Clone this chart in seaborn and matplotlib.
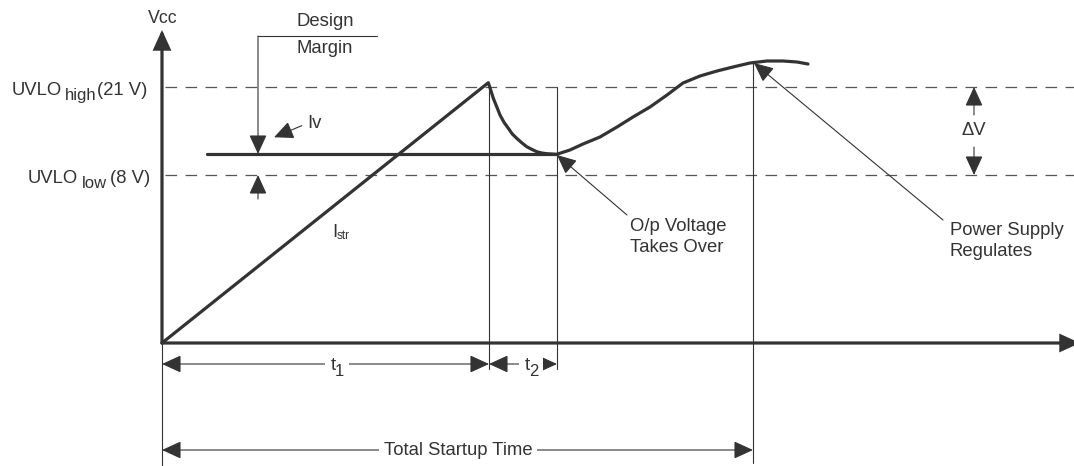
import matplotlib
matplotlib.use("Agg")
import matplotlib.pyplot as plt
from matplotlib.patches import Rectangle
import seaborn as sns

# ---------------------------------------------
# Startup waveform (diagram units: time right, Vcc up)
# ---------------------------------------------
trace_t = [0, 32.63, 32.87, 33.13, 33.47, 33.80, 34.20, 34.63, 35.03, 35.47,
           35.97, 36.47, 36.97, 37.47, 37.97, 38.47, 38.97, 39.47,
           40.8, 42.1, 43.8, 45.5, 47.1, 48.8, 50.5, 52.1, 53.8, 55.5,
           57.1, 58.8, 60.5, 62.1, 63.5, 64.6]
trace_v = [0, 26.03, 25.30, 24.47, 23.63, 22.80, 22.07, 21.47, 20.90, 20.47,
           20.03, 19.63, 19.37, 19.13, 19.00, 18.93, 18.90, 18.87,
           19.3, 19.9, 20.6, 21.6, 22.6, 23.6, 24.8, 26.0, 26.7, 27.2,
           27.6, 28.0, 28.2, 28.2, 28.1, 27.9]

uvlo_high_v = 25.6
uvlo_low_v = 16.8
iv_v = 18.9
iv_start = 4.5
t1_end = 32.7
t2_end = 39.5
t_total = 59.1
margin_x = 9.6
margin_top = 30.7
margin_bar_end = 21.5
dv_x = 81.2

uvlo_labels = [("UVLO", "high", "(21 V)"), ("UVLO", "low", "(8 V)")]
span_labels = [("1", 16.9), ("2", 36.3)]

INK = "#333333"
DASH = "#555555"
FS = 13.3

sns.set_style("white")
plt.rcParams["font.family"] = ["Liberation Sans", "DejaVu Sans"]

fig = plt.figure(figsize=(10.74, 4.66), dpi=100)
ax = fig.add_axes([0, 0, 1, 1])
ax.set_xlim(-16.2, 91.2)
ax.set_ylim(-12.3, 34.3)
ax.axis("off")


def arrow(x0, y0, x1, y1, lw=0.8, style="-|>", hl=1.2, hw=0.55):
    ax.annotate("", xy=(x1, y1), xytext=(x0, y0), annotation_clip=False,
                arrowprops=dict(arrowstyle=f"{style},head_length={hl},head_width={hw}",
                                color=INK, lw=lw, shrinkA=0, shrinkB=0,
                                mutation_scale=10, joinstyle="miter"))


# dashed UVLO thresholds
for lvl in [uvlo_high_v, uvlo_low_v]:
    ax.plot([0.3, 91.2], [lvl, lvl], color=DASH, lw=0.9, ls=(0, (9.3, 6.7)))

# axes
arrow(0, 0, 0, 31.3, lw=2.3, hl=1.1, hw=0.5)
arrow(0, 0, 91.8, 0, lw=2.3, hl=1.1, hw=0.5)
ax.text(0.1, 32.4, "Vcc", fontsize=12.8, color=INK, ha="center", va="center")

# thin vertical markers
ax.plot([0, 0], [0, -12.3], color=INK, lw=0.8)
ax.plot([t1_end, t1_end], [uvlo_high_v, -2.6], color=INK, lw=0.8)
ax.plot([t2_end, t2_end], [uvlo_high_v, -2.6], color=INK, lw=0.8)
ax.plot([t_total, t_total], [28.0, -12.0], color=INK, lw=0.8)

# Iv level and waveform
sns.lineplot(x=[iv_start, t2_end], y=[iv_v, iv_v], ax=ax, color=INK, lw=2.3)
sns.lineplot(x=trace_t, y=trace_v, ax=ax, sort=False, estimator=None,
             color=INK, lw=2.3, solid_joinstyle="round", solid_capstyle="round")

# UVLO labels
for (main, sub, tail), y, xs in zip(uvlo_labels, [uvlo_high_v, uvlo_low_v],
                                    [(-15.0, -9.7, -6.5), (-13.4, -8.0, -5.2)]):
    ax.text(xs[0], y - 0.8, main, fontsize=FS, color=INK, va="baseline")
    ax.text(xs[1], y - 1.3, sub, fontsize=12, color=INK, va="baseline")
    ax.text(xs[2], y - 0.8, tail, fontsize=FS, color=INK, va="baseline")

# design margin
ax.plot([margin_x, margin_bar_end], [margin_top, margin_top], color=INK, lw=0.8)
arrow(margin_x, margin_top, margin_x, iv_v)
arrow(margin_x, 14.4, margin_x, uvlo_low_v)
ax.text(16.3, 32.1, "Design", fontsize=FS, color=INK, ha="center", va="center")
ax.text(16.3, 29.4, "Margin", fontsize=FS, color=INK, ha="center", va="center")

# Iv pointer
arrow(13.97, 21.73, 11.2, 20.57)
ax.text(14.5, 21.5, "Iv", fontsize=FS, color=INK, va="baseline")

# Istr
ax.text(17.0, 10.63, "I", fontsize=FS, color=INK, va="baseline")
ax.text(17.5, 10.37, "str", fontsize=8.5, color=INK, va="baseline")

# callouts
arrow(46.5, 12.8, t2_end, iv_v - 0.1)
ax.text(46.8, 11.23, "O/p Voltage", fontsize=FS, color=INK, va="baseline")
ax.text(46.8, 9.13, "Takes Over", fontsize=FS, color=INK, va="baseline")
arrow(78.1, 12.3, t_total + 0.1, 28.0)
ax.text(78.8, 10.8, "Power Supply", fontsize=FS, color=INK, va="baseline")
ax.text(78.8, 8.7, "Regulates", fontsize=FS, color=INK, va="baseline")

# delta V
arrow(dv_x, 22.8, dv_x, uvlo_high_v)
arrow(dv_x, 19.6, dv_x, uvlo_low_v)
ax.text(dv_x, 21.2, "\u0394V", fontsize=FS, color=INK, ha="center", va="center")

# time spans
arrow(0, -2.1, t1_end, -2.1, style="<|-|>")
arrow(t1_end, -2.1, t2_end, -2.1, style="<|-|>")
for sub, x in span_labels:
    # white patch to break the dimension line behind the label
    ax.add_patch(Rectangle((x - 0.6, -3.2), 2.4, 2.2, facecolor="white",
                           edgecolor="none", zorder=3))
    ax.text(x, -2.7, "t", fontsize=FS, color=INK, va="baseline", zorder=4)
    ax.text(x + 0.4, -3.3, sub, fontsize=12, color=INK, va="baseline", zorder=4)

arrow(0, -10.7, t_total, -10.7, style="<|-|>")
ax.text(29.6, -10.75, "Total Startup Time", fontsize=FS, color=INK,
        ha="center", va="center", bbox=dict(facecolor="white", edgecolor="none", pad=3))

fig.savefig("out.png", dpi=100)
